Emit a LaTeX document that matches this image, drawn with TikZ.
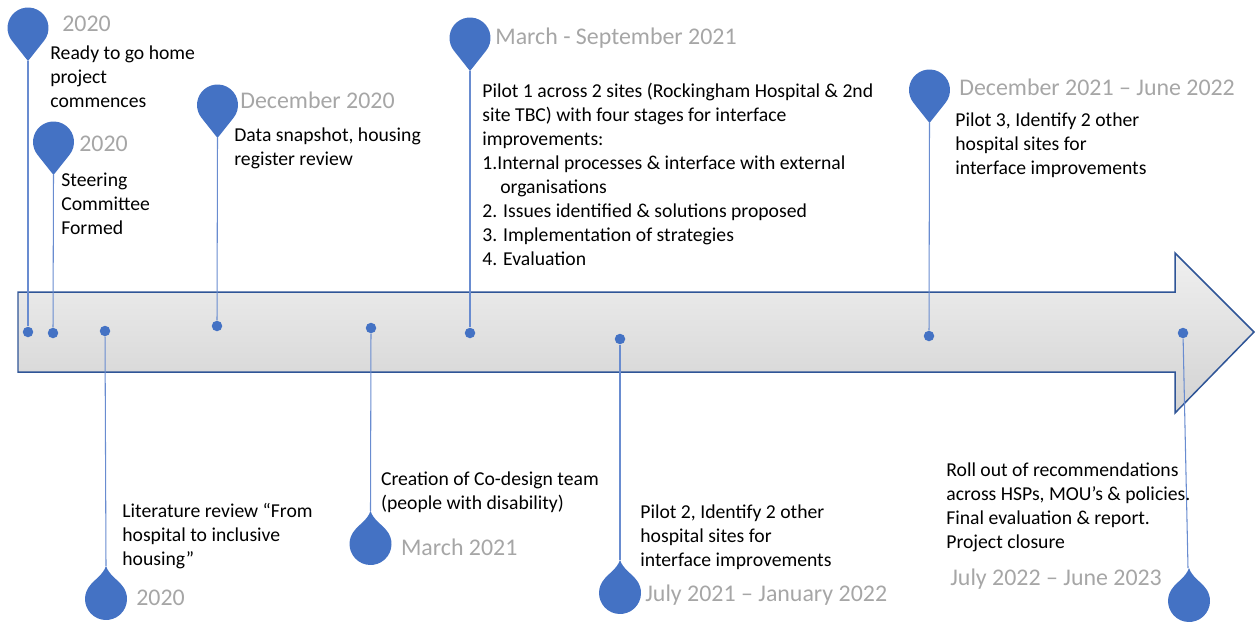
\documentclass[tikz,border=0pt]{standalone}
\usepackage{fontspec}
\setmainfont{Carlito}
\usetikzlibrary{calc}
\definecolor{pinblue}{RGB}{68,114,196}
\definecolor{stemblue}{RGB}{105,140,208}
\definecolor{dategrey}{RGB}{166,166,166}
\definecolor{arrowline}{RGB}{47,85,151}

\begin{document}
\begin{tikzpicture}[x=0.02cm,y=-0.02cm,
    dot/.style={circle,fill=pinblue,inner sep=0pt,minimum size=0.21cm},
    stem/.style={stemblue,line width=0.6pt},
    date/.style={dategrey,anchor=base west,inner sep=0pt,font=\fontsize{13.6}{16}\selectfont},
    note/.style={anchor=base west,inner sep=0pt,align=left,font=\fontsize{11.2}{13.66}\selectfont},
    pinup/.pic={\fill[pinblue] (0,33) -- (16.1,12.7) arc[start angle=38.3,end angle=-218.3,radius=20.5] -- cycle;},
    pindown/.pic={\fill[pinblue] (0,-33) .. controls (3,-24) and (12,-19) .. (15.5,-14.2) arc[start angle=-42.5,end angle=222.5,radius=21] .. controls (-12,-19) and (-3,-24) .. (0,-33) -- cycle;}]
                \useasboundingbox (0,0) rectangle (1255,626);
                \draw[arrowline,line width=0.85pt,top color=gray!12,bottom color=gray!35] (18,292) -- (1175,292) -- (1175,253) -- (1254,332) -- (1175,413) -- (1175,372) -- (18,372) -- cycle;
                \node[dot] (d1) at (28,332) {};
                \node[dot] (d2) at (53,333) {};
                \node[dot] (d3) at (105,331) {};
                \node[dot] (d4) at (217,326) {};
                \node[dot] (d5) at (371,328) {};
                \node[dot] (d6) at (470,333) {};
                \node[dot] (d7) at (620,339) {};
                \node[dot] (d8) at (929,336) {};
                \node[dot] (d9) at (1183,333) {};
                \coordinate (t1) at (28,61);
                \coordinate (t2) at (53.5,175);
                \coordinate (t3) at (106,566);
                \coordinate (t4) at (217.5,138);
                \coordinate (t5) at (370.5,511);
                \coordinate (t6) at (470,71);
                \coordinate (t7) at (620,560);
                \coordinate (t8) at (929.5,123);
                \coordinate (t9) at (1188,568);
                \foreach \i in {1,...,9} \draw[stem] (t\i) -- (d\i);
                \pic at (28,28) {pinup};
                \pic at (53.5,142) {pinup};
                \pic at (106,599) {pindown};
                \pic at (217.5,105) {pinup};
                \pic at (370.5,544) {pindown};
                \pic at (470,38) {pinup};
                \pic at (620,593) {pindown};
                \pic at (929.5,90) {pinup};
                \pic at (1189,601) {pindown};
                \node[date] (y1) at (62,31.7) {2020};
                \node[note] (n1) at (50,107.3) {Ready to go home\\project\\commences};
                \node[date] (y2) at (79,151.7) {2020};
                \node[note] (n2) at (61,234.7) {Steering\\Committee\\Formed};
                \node[note] (n3) at (122,565.3) {Literature review “From\\hospital to inclusive\\housing”};
                \node[date] (y3) at (136,605.7) {2020};
                \node[date] (y4) at (240,108.3) {December 2020};
                \node[note] (n4) at (234,165.7) {Data snapshot, housing\\register review};
                \node[note] (n5) at (380.7,509) {Creation of Co-design team\\(people with disability)};
                \node[date] (y5) at (400.7,555) {March 2021};
                \node[date] (y6) at (495,44.3) {March - September 2021};
                \node[note] (n6) at (482,265.3) {Pilot 1 across 2 sites (Rockingham Hospital \& 2nd\\site TBC) with four stages for interface\\improvements:\\1.Internal processes \& interface with external\\\hspace*{0.36cm}organisations\\2. Issues identified \& solutions proposed\\3. Implementation of strategies\\4. Evaluation};
                \node[note] (n7) at (640,566) {Pilot 2, Identify 2 other\\hospital sites for\\interface improvements};
                \node[date] (y7) at (645,601) {July 2021 – January 2022};
                \node[date] (y8) at (959,95) {December 2021 – June 2022};
                \node[note] (n8) at (955,174.7) {Pilot 3, Identify 2 other\\hospital sites for\\interface improvements};
                \node[note] (n9) at (946,548) {Roll out of recommendations\\across HSPs, MOU’s \& policies.\\Final evaluation \& report.\\Project closure};
                \node[date] (y9) at (950,585) {July 2022 – June 2023};
            \end{tikzpicture}
\end{document}
